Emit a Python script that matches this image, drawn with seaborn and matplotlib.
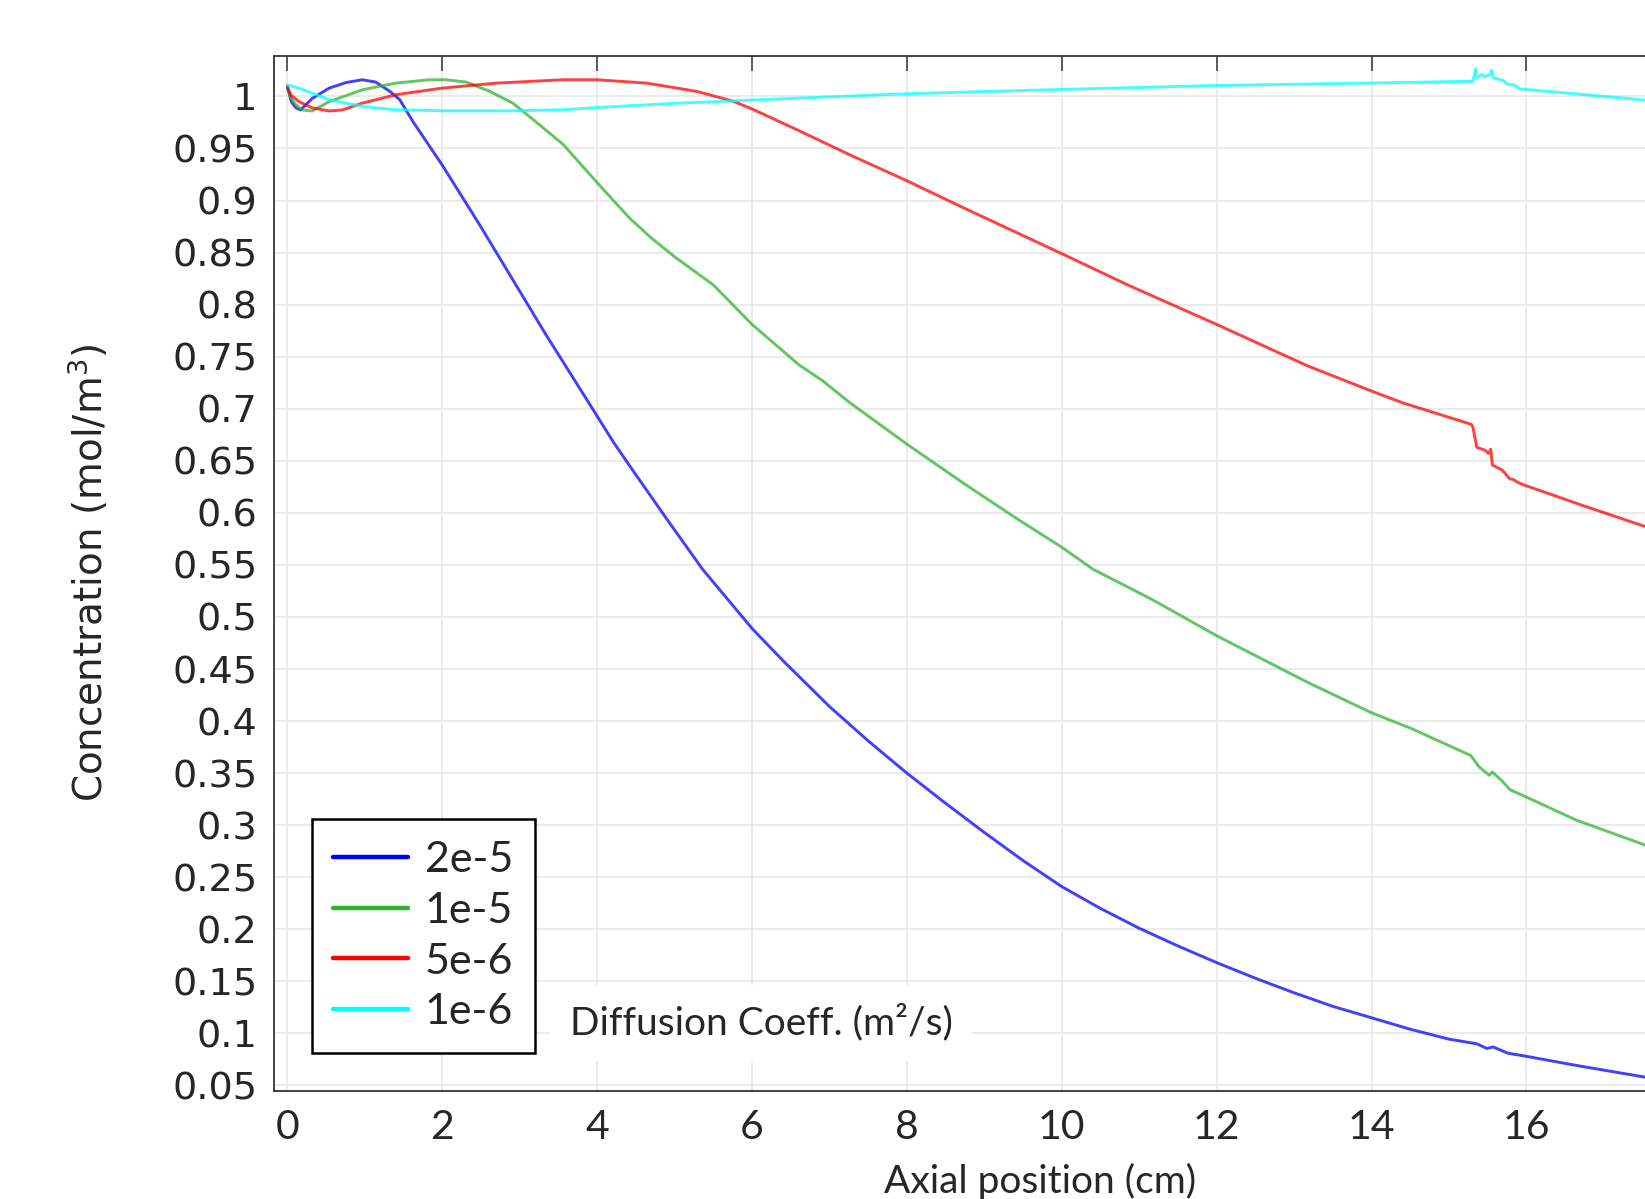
import numpy as np
import pandas as pd
import seaborn as sns
import matplotlib
matplotlib.use('Agg')
from matplotlib import pyplot as plt
from matplotlib.lines import Line2D
from matplotlib.ticker import FormatStrFormatter

# diffusion coefficients (m2/s) -> series labels
labels = ['2e-5', '1e-5', '5e-6', '1e-6']
colors = ['#0000ff', '#2db52d', '#ff0000', '#00ffff']

# axial position (cm) / concentration (mol/m3)
x_2e5 = [0.0, 0.05, 0.11, 0.17, 0.32, 0.54, 0.76, 0.97, 1.14, 1.32, 1.45, 1.62, 2.0, 2.48, 2.91, 3.34, 3.78,
         4.21, 4.44, 4.90, 5.36, 6.0, 6.4, 7.0, 7.5, 8.0, 8.5, 9.0, 9.5, 10.0, 10.5, 11.0, 11.5, 12.0, 12.5,
         13.0, 13.5, 14.0, 14.5, 15.0, 15.36, 15.49, 15.57, 15.76, 16.0, 16.64, 17.53, 18.0]
c_2e5 = [1.010, 0.995, 0.989, 0.987, 0.998, 1.008, 1.0134, 1.016, 1.0138, 1.005, 0.997, 0.976, 0.934, 0.877,
         0.824, 0.771, 0.719, 0.668, 0.643, 0.594, 0.546, 0.489, 0.458, 0.414, 0.381, 0.350, 0.321, 0.293,
         0.266, 0.241, 0.220, 0.201, 0.184, 0.168, 0.153, 0.139, 0.126, 0.115, 0.104, 0.0945, 0.090, 0.0855,
         0.087, 0.081, 0.078, 0.0693, 0.058, 0.053]

x_1e5 = [0.0, 0.05, 0.11, 0.19, 0.32, 0.54, 0.97, 1.40, 1.83, 2.05, 2.31, 2.61, 2.91, 3.17, 3.56, 3.99, 4.42,
         4.7, 5.0, 5.5, 6.0, 6.61, 6.91, 7.26, 8.0, 8.76, 9.45, 10.0, 10.4, 11.16, 12.0, 13.18, 14.0, 14.51,
         15.28, 15.33, 15.39, 15.52, 15.56, 15.68, 15.79, 16.0, 16.64, 17.53, 18.0]
c_1e5 = [1.008, 0.998, 0.992, 0.987, 0.986, 0.995, 1.0064, 1.0128, 1.016, 1.016, 1.0138, 1.005, 0.9936, 0.978,
         0.954, 0.918, 0.883, 0.864, 0.846, 0.819, 0.781, 0.742, 0.727, 0.706, 0.666, 0.627, 0.593, 0.567,
         0.546, 0.517, 0.482, 0.437, 0.408, 0.393, 0.367, 0.362, 0.356, 0.348, 0.351, 0.343, 0.334, 0.327,
         0.305, 0.281, 0.269]

x_5e6 = [0.0, 0.05, 0.15, 0.32, 0.54, 0.71, 0.97, 1.40, 2.0, 2.70, 3.56, 4.0, 4.64, 5.29, 5.75, 6.0, 6.61,
         7.26, 8.0, 8.76, 10.0, 10.85, 12.0, 13.18, 14.0, 14.39, 15.29, 15.31, 15.36, 15.47, 15.51, 15.54,
         15.56, 15.69, 15.78, 15.83, 15.90, 15.96, 16.77, 17.53, 18.0]
c_5e6 = [1.008, 1.001, 0.995, 0.989, 0.986, 0.987, 0.9936, 1.0016, 1.008, 1.0128, 1.016, 1.016, 1.0128,
         1.0048, 0.9955, 0.988, 0.967, 0.944, 0.919, 0.892, 0.849, 0.819, 0.781, 0.741, 0.717, 0.706, 0.685,
         0.682, 0.663, 0.660, 0.657, 0.661, 0.646, 0.641, 0.633, 0.632, 0.629, 0.627, 0.606, 0.587, 0.576]

x_1e6 = [0.0, 0.15, 0.54, 0.97, 1.40, 2.05, 2.91, 3.56, 4.0, 5.07, 6.1, 8.0, 10.0, 12.0, 14.1, 15.31, 15.345,
         15.36, 15.42, 15.47, 15.53, 15.55, 15.57, 15.70, 15.76, 15.85, 15.91, 16.0, 17.53, 18.0]
c_1e6 = [1.011, 1.008, 0.9968, 0.9904, 0.9872, 0.9862, 0.9862, 0.9872, 0.9894, 0.9936, 0.9968, 1.0026,
         1.0067, 1.0105, 1.013, 1.0146, 1.0268, 1.018, 1.021, 1.019, 1.021, 1.025, 1.018, 1.0153, 1.0115,
         1.011, 1.0073, 1.0067, 0.9965, 0.993]

xs = [x_2e5, x_1e5, x_5e6, x_1e6]
cs = [c_2e5, c_1e5, c_5e6, c_1e6]

data = pd.concat([pd.DataFrame({'x': x, 'c': c, 'D': lab}) for x, c, lab in zip(xs, cs, labels)],
                 ignore_index=True)

sns.set_style('white')
narrow = ['Lato', 'DejaVu Sans']

fig = plt.figure(figsize=(16.45, 11.99), dpi=100)
ax = fig.add_axes([0.1667, 0.0901, 0.9316, 0.8636])

sns.lineplot(data=data, x='x', y='c', hue='D', palette=dict(zip(labels, colors)), estimator=None,
             sort=False, linewidth=2.1, alpha=0.75, legend=False, ax=ax)

ax.set_xlim(-0.17, 19.62)
ax.set_ylim(0.0447, 1.0393)
ax.set_xticks(np.arange(0, 17, 2))
ax.set_yticks(np.arange(0.05, 1.001, 0.05))
ax.yaxis.set_major_formatter(FormatStrFormatter('%g'))
ax.set_xticklabels([str(v) for v in range(0, 17, 2)], fontfamily=narrow, fontsize=29.5)

ax.grid(True, color='#e8e8e8', linewidth=1.2)
ax.set_axisbelow(True)
for side in ['left', 'top', 'bottom', 'right']:
    ax.spines[side].set_color('#333333')
    ax.spines[side].set_linewidth(1.3)
ax.tick_params(axis='both', direction='in', length=11, width=1.1, color='#333333', top=True, right=False)
ax.tick_params(axis='y', labelsize=27.5, pad=12)
ax.tick_params(axis='x', pad=13)

ax.set_ylabel('Concentration (mol/m$^3$)', fontsize=28, labelpad=44)
ax.set_xlabel('Axial position (cm)', fontfamily=narrow, fontsize=28, labelpad=12)

handles = [Line2D([], [], color=col, linewidth=3.2) for col in colors]
leg = ax.legend(handles, labels, loc='lower left', bbox_to_anchor=(0.0244, 0.0367), borderaxespad=0,
                prop={'family': narrow, 'size': 31}, handlelength=1.75, handletextpad=0.38,
                labelspacing=0.3, borderpad=0.5, fancybox=False, framealpha=1, edgecolor='black')
leg.get_frame().set_linewidth(1.8)

ax.text(0.1928, 0.0657, 'Diffusion Coeff. (m²/s)', transform=ax.transAxes, ha='left', va='center',
        fontfamily=narrow, fontsize=28,
        bbox=dict(facecolor='white', edgecolor='none', pad=14))

fig.savefig('out.png', dpi=100)
